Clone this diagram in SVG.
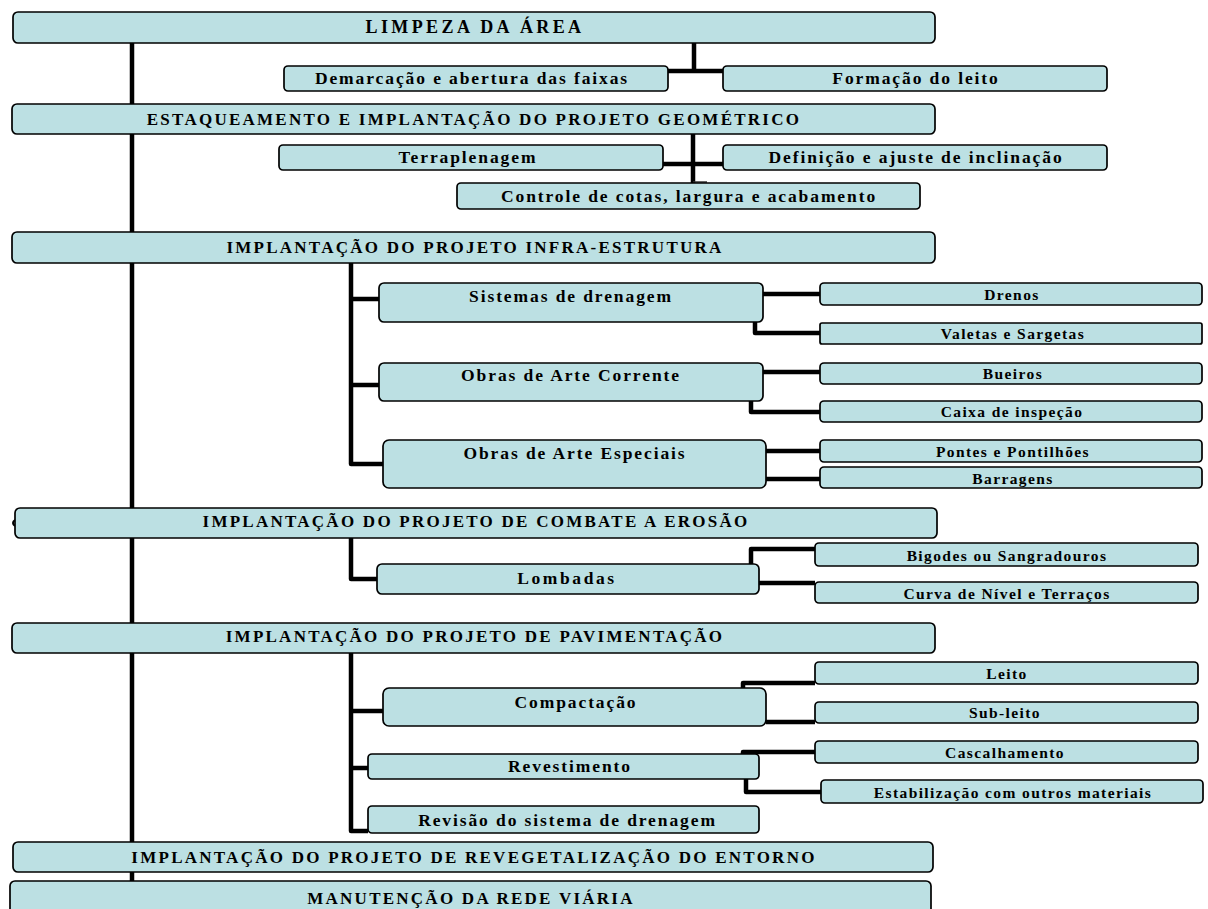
<svg xmlns="http://www.w3.org/2000/svg" width="1208" height="909" viewBox="0 0 1208 909">
<style>
.b{fill:#bce0e3;stroke:#000;stroke-width:1.7}
.t{font-family:"Liberation Serif",serif;font-weight:bold;text-anchor:middle;fill:#000}
.m{font-size:17px;letter-spacing:2.25px}
.s{font-size:17.5px;letter-spacing:1.9px}
.x{font-size:15.5px;letter-spacing:1.4px}
.c{fill:none;stroke:#000;stroke-width:4.5;stroke-linejoin:round}
</style>
<rect width="1208" height="909" fill="#fff"/>
<g id="connectors">
<g class="c">
<path d="M132 43V882"/>
<path d="M694 43V71M668 71H731"/>
<path d="M693 134V183M663 164H723"/>
<path d="M351 263V464H383M351 299H379M351 385H379"/>
<path d="M763 294H820M755 322V333H820"/>
<path d="M763 372H820M751 401V412H820"/>
<path d="M766 451H820M766 479H820"/>
<path d="M351 538V579H377"/>
<path d="M751 564V549H815M759 583H815"/>
<path d="M351 653V831H368M351 711H383M351 768H368"/>
<path d="M743 688V683H815M766 722H815"/>
<path d="M743 754V752H815M746 779V792H821"/>
</g>
<path d="M693 182H707" fill="none" stroke="#333" stroke-width="1.5"/>
<path d="M15 520Q11 523 15 526" fill="none" stroke="#000" stroke-width="2"/>
</g>
<g id="n1"><rect class="b" x="13" y="12" width="922" height="31" rx="5"/><text class="t" style="font-size:18px;letter-spacing:3.4px" x="475" y="33">LIMPEZA DA ÁREA</text></g>
<g id="n2"><rect class="b" x="284" y="66" width="384" height="25" rx="4"/><text class="t s" x="472" y="84">Demarcação e abertura das faixas</text></g>
<g id="n3"><rect class="b" x="723" y="66" width="384" height="25" rx="4"/><text class="t s" x="916" y="84">Formação do leito</text></g>
<g id="n4"><rect class="b" x="12" y="104" width="923" height="30" rx="5"/><text class="t m" x="474" y="125">ESTAQUEAMENTO E IMPLANTAÇÃO DO PROJETO GEOMÉTRICO</text></g>
<g id="n5"><rect class="b" x="279" y="145" width="384" height="25" rx="4"/><text class="t s" x="468" y="163">Terraplenagem</text></g>
<g id="n6"><rect class="b" x="723" y="145" width="384" height="25" rx="4"/><text class="t s" x="916" y="163">Definição e ajuste de inclinação</text></g>
<g id="n7"><rect class="b" x="457" y="183" width="463" height="26" rx="4"/><text class="t s" x="689" y="202">Controle de cotas, largura e acabamento</text></g>
<g id="n8"><rect class="b" x="12" y="232" width="923" height="31" rx="5"/><text class="t m" x="475" y="253">IMPLANTAÇÃO DO PROJETO INFRA-ESTRUTURA</text></g>
<g id="n9"><rect class="b" x="379" y="283" width="384" height="39" rx="5"/><text class="t s" x="571" y="302">Sistemas de drenagem</text></g>
<g id="n10"><rect class="b" x="820" y="283" width="382" height="22" rx="4"/><text class="t x" x="1012" y="300">Drenos</text></g>
<g id="n11"><rect class="b" x="820" y="323" width="382" height="21" rx="2"/><text class="t x" x="1013" y="339">Valetas e Sargetas</text></g>
<g id="n12"><rect class="b" x="379" y="363" width="384" height="38" rx="5"/><text class="t s" x="571" y="381">Obras de Arte Corrente</text></g>
<g id="n13"><rect class="b" x="820" y="363" width="382" height="21" rx="4"/><text class="t x" x="1013" y="379">Bueiros</text></g>
<g id="n14"><rect class="b" x="820" y="401" width="382" height="21" rx="4"/><text class="t x" x="1012" y="417">Caixa de inspeção</text></g>
<g id="n15"><rect class="b" x="383" y="440" width="383" height="48" rx="6"/><text class="t s" x="575" y="459">Obras de Arte Especiais</text></g>
<g id="n16"><rect class="b" x="820" y="440" width="382" height="22" rx="4"/><text class="t x" x="1013" y="457">Pontes e Pontilhões</text></g>
<g id="n17"><rect class="b" x="820" y="467" width="382" height="21" rx="4"/><text class="t x" x="1013" y="484">Barragens</text></g>
<g id="n18"><rect class="b" x="15" y="508" width="922" height="30" rx="5"/><text class="t m" x="476" y="527">IMPLANTAÇÃO DO PROJETO DE COMBATE A EROSÃO</text></g>
<g id="n19"><rect class="b" x="377" y="564" width="382" height="30" rx="5"/><text class="t s" style="letter-spacing:2.6px" x="567" y="584">Lombadas</text></g>
<g id="n20"><rect class="b" x="815" y="543" width="383" height="23" rx="4"/><text class="t x" x="1007" y="561">Bigodes ou Sangradouros</text></g>
<g id="n21"><rect class="b" x="815" y="582" width="383" height="21" rx="4"/><text class="t x" x="1007" y="599">Curva de Nível e Terraços</text></g>
<g id="n22"><rect class="b" x="12" y="623" width="923" height="30" rx="5"/><text class="t m" x="475" y="642">IMPLANTAÇÃO DO PROJETO DE PAVIMENTAÇÃO</text></g>
<g id="n23"><rect class="b" x="383" y="688" width="383" height="38" rx="6"/><text class="t s" x="576" y="708">Compactação</text></g>
<g id="n24"><rect class="b" x="815" y="662" width="383" height="22" rx="4"/><text class="t x" x="1007" y="679">Leito</text></g>
<g id="n25"><rect class="b" x="815" y="702" width="383" height="21" rx="4"/><text class="t x" x="1005" y="718">Sub-leito</text></g>
<g id="n26"><rect class="b" x="368" y="754" width="391" height="25" rx="4"/><text class="t s" x="570" y="772">Revestimento</text></g>
<g id="n27"><rect class="b" x="815" y="741" width="383" height="22" rx="4"/><text class="t x" x="1005" y="758">Cascalhamento</text></g>
<g id="n28"><rect class="b" x="821" y="780" width="382" height="23" rx="4"/><text class="t x" x="1013" y="798">Estabilização com outros materiais</text></g>
<g id="n29"><rect class="b" x="368" y="806" width="391" height="27" rx="4"/><text class="t s" x="567.5" y="826">Revisão do sistema de drenagem</text></g>
<g id="n30"><rect class="b" x="13" y="842" width="920" height="30" rx="5"/><text class="t m" x="474" y="863">IMPLANTAÇÃO DO PROJETO DE REVEGETALIZAÇÃO DO ENTORNO</text></g>
<g id="n31"><rect class="b" x="10" y="881" width="921" height="35" rx="5"/><text class="t m" x="471" y="904">MANUTENÇÃO DA REDE VIÁRIA</text></g>
</svg>
